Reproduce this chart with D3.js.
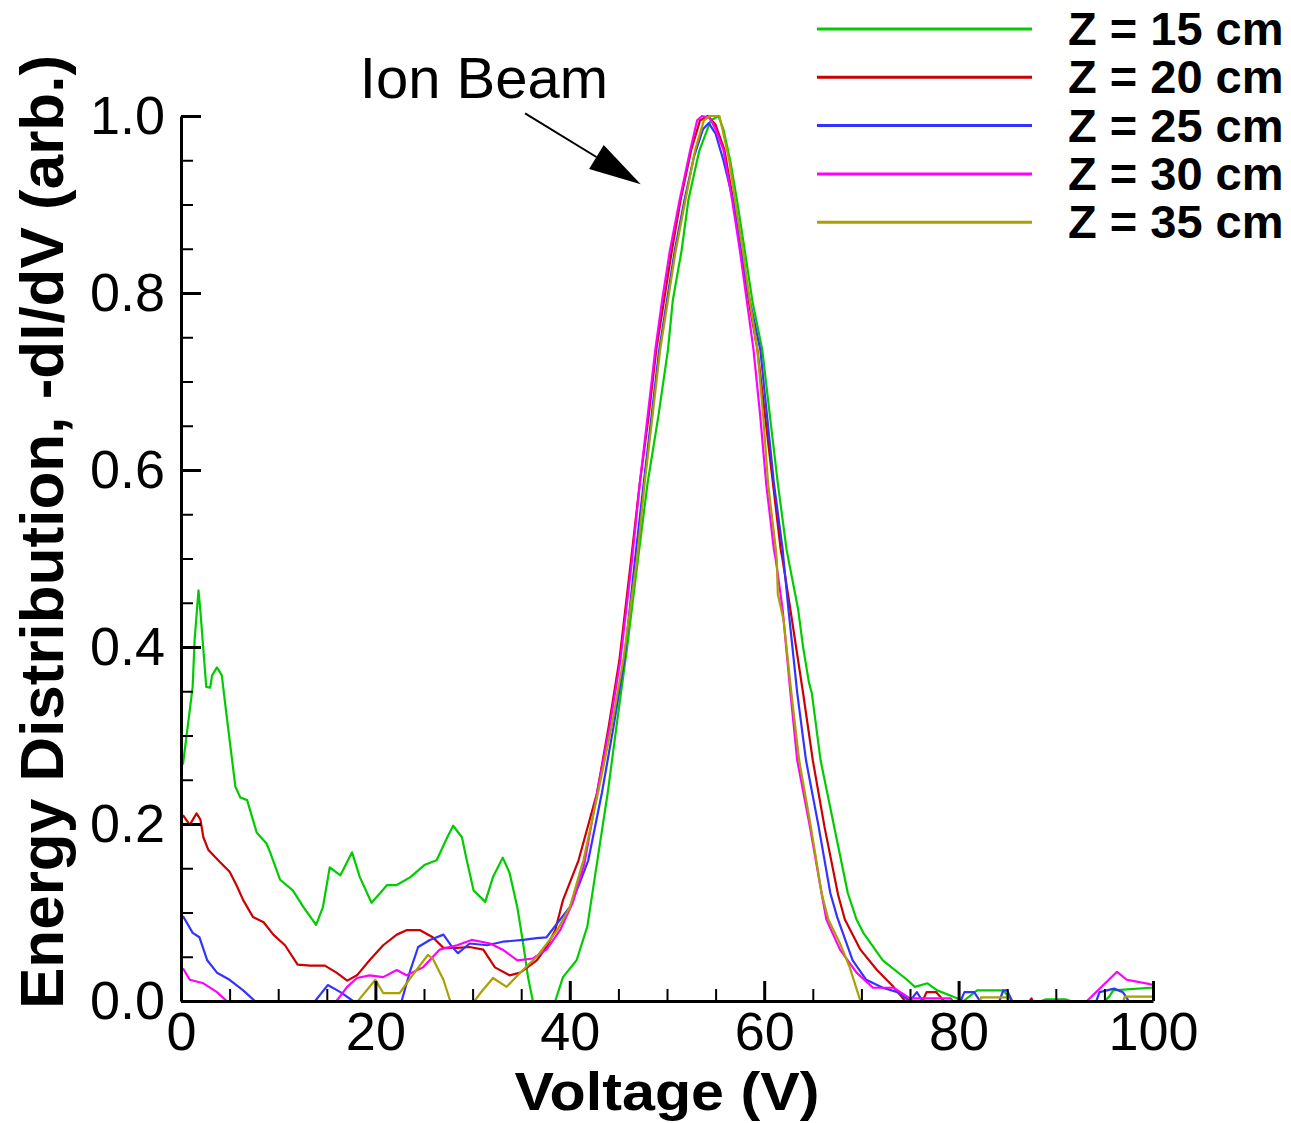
<!DOCTYPE html>
<html lang="en">
  <head>
    <meta charset="UTF-8" />
    <title>Ion energy distribution</title>
    <script src="https://d3js.org/d3.v7.min.js"></script>
    <style>
      body { margin: 0; background: #fff; }
      svg { display: block; font-family: "Liberation Sans", Arial, sans-serif; }
      .axis .domain { stroke: #000; stroke-width: 3; }
      .axis .tick line { stroke: #000; stroke-width: 3; }
      .minor .tick line { stroke: #000; stroke-width: 2; }
      .axis text { font-size: 54px; fill: #000; }
      .curve { fill: none; stroke-width: 2.2; stroke-linejoin: round; }
    </style>
  </head>
  <body>
    <svg width="1291" height="1123"></svg>
    <script>
      const width = 1291;
      const height = 1123;

      // 数据: [电压 V, -dI/dV]
      const z15 = [[0.2,0.267],[1.2,0.355],[1.4,0.408],[1.8,0.464],[2.0,0.44],[2.3,0.397],[2.6,0.355],[3.0,0.354],[3.2,0.368],[3.7,0.377],[4.2,0.368],[4.5,0.34],[5.0,0.295],[5.6,0.242],[6.1,0.23],[6.8,0.227],[7.8,0.19],[8.8,0.178],[9.2,0.167],[10.2,0.137],[11.5,0.125],[12.6,0.106],[13.9,0.086],[14.6,0.106],[15.3,0.151],[16.4,0.142],[17.6,0.168],[18.4,0.14],[19.6,0.111],[20.5,0.122],[21.2,0.131],[22.2,0.131],[23.6,0.14],[25.1,0.154],[26.3,0.159],[27.4,0.185],[28.0,0.198],[28.9,0.185],[29.4,0.159],[30.1,0.125],[31.3,0.112],[32.1,0.14],[33.1,0.162],[33.8,0.145],[34.6,0.106],[35.2,0.065],[35.7,0.027],[36.2,0],[36.8,-0.03],[37.8,-0.03],[38.5,0],[39.3,0.027],[40.7,0.046],[41.8,0.084],[42.8,0.156],[43.9,0.235],[44.8,0.31],[45.9,0.4],[47.0,0.498],[48.0,0.585],[49.1,0.66],[50.1,0.736],[50.6,0.792],[51.5,0.848],[52.2,0.905],[53.3,0.96],[54.5,0.995],[55.3,1.0],[55.8,0.985],[56.5,0.95],[57.2,0.905],[58.0,0.848],[58.8,0.79],[59.8,0.736],[60.6,0.66],[61.4,0.585],[62.3,0.51],[63.5,0.442],[64.0,0.4],[64.6,0.36],[64.9,0.348],[65.8,0.272],[67.2,0.197],[68.6,0.122],[69.5,0.092],[70.2,0.077],[72.2,0.046],[74.7,0.024],[75.5,0.016],[76.8,0.02],[77.8,0.012],[79.4,0.005],[80.5,0],[81.9,0.012],[84.6,0.012],[85.5,0],[87,-0.01],[88.5,0],[89,0.002],[91,0.002],[91.5,0],[94,-0.01],[95.5,0.005],[95.9,0.012],[99.7,0.015],[100,0.015]];
      const z20 = [[0.2,0.21],[0.9,0.199],[1.6,0.212],[2.0,0.205],[2.3,0.185],[2.8,0.171],[4.0,0.157],[5.0,0.146],[5.7,0.131],[6.4,0.114],[7.4,0.095],[8.5,0.089],[9.5,0.075],[10.7,0.063],[12.0,0.041],[13.3,0.04],[14.8,0.04],[16.0,0.032],[17.1,0.023],[18.1,0.029],[19.4,0.046],[20.8,0.063],[22.2,0.075],[23.2,0.08],[24.6,0.08],[25.9,0.072],[27.0,0.06],[28.4,0.06],[29.7,0.061],[31.1,0.058],[32.3,0.038],[33.8,0.029],[34.9,0.032],[36.6,0.046],[37.6,0.061],[38.5,0.08],[39.3,0.114],[40.9,0.159],[42.8,0.235],[44.0,0.31],[45.1,0.385],[46.3,0.498],[47.2,0.585],[48.1,0.66],[48.9,0.736],[49.7,0.792],[50.5,0.848],[51.4,0.905],[52.5,0.962],[53.4,0.995],[54.2,1.0],[55.0,0.99],[55.9,0.962],[56.8,0.905],[57.6,0.848],[58.4,0.792],[59.3,0.736],[60.1,0.66],[60.9,0.585],[61.7,0.51],[61.9,0.498],[62.7,0.442],[64.0,0.348],[65.0,0.272],[66.2,0.197],[67.6,0.12],[68.3,0.092],[69.9,0.058],[71.6,0.035],[73.3,0.016],[74.5,0],[75.5,-0.01],[76.3,0],[76.7,0.01],[77.7,0.01],[78.5,0],[80,-0.01],[87,-0.005],[87.5,0.003],[88,-0.01],[100,-0.01]];
      const z25 = [[0.2,0.096],[1.2,0.077],[1.9,0.072],[2.7,0.046],[3.7,0.032],[5.0,0.024],[6.4,0.012],[7.6,0],[9,-0.02],[12,-0.02],[13.8,0],[15.1,0.018],[16.4,0.01],[17.7,0],[19,-0.02],[21,-0.02],[22.7,0],[23.6,0.035],[24.4,0.061],[25.6,0.069],[27.0,0.075],[27.9,0.061],[28.5,0.054],[29.7,0.065],[31.5,0.063],[33.1,0.067],[35.2,0.069],[36.6,0.071],[37.6,0.072],[39.0,0.092],[40.0,0.106],[41.0,0.133],[41.9,0.159],[43.3,0.235],[44.5,0.31],[45.6,0.385],[46.7,0.498],[47.6,0.585],[48.4,0.66],[49.2,0.736],[50.0,0.792],[50.8,0.848],[51.8,0.905],[52.8,0.955],[53.7,0.985],[54.3,0.992],[55.0,0.98],[55.8,0.95],[56.8,0.905],[57.6,0.848],[58.5,0.792],[59.6,0.736],[60.3,0.66],[61.0,0.585],[61.9,0.51],[62.0,0.498],[62.5,0.442],[63.4,0.348],[64.3,0.272],[65.6,0.197],[66.8,0.122],[67.5,0.095],[69.1,0.046],[70.5,0.024],[72.2,0.015],[73.7,0.01],[75.0,0],[75.7,0.01],[76.3,0],[78,-0.01],[80.2,0],[80.6,0.01],[81.6,0.01],[82.2,0],[84.2,0],[84.6,0.012],[85.0,0.012],[85.5,0],[88,-0.01],[94,-0.005],[94.5,0.01],[96.0,0.014],[96.9,0.01],[97.5,0],[100,-0.005]];
      const z30 = [[0.2,0.037],[0.9,0.024],[2.3,0.02],[3.7,0.01],[4.7,0],[6,-0.02],[10,-0.03],[14,-0.02],[16,0],[17.1,0.016],[18.1,0.026],[19.4,0.029],[20.8,0.027],[22.2,0.035],[23.2,0.029],[24.9,0.038],[26.6,0.058],[28.4,0.063],[29.9,0.069],[31.8,0.065],[33.1,0.058],[34.6,0.046],[36.2,0.048],[37.6,0.058],[39.0,0.08],[40.3,0.111],[41.5,0.155],[42.8,0.235],[44.1,0.31],[45.2,0.385],[46.4,0.498],[47.2,0.585],[48.0,0.66],[48.8,0.736],[49.5,0.792],[50.3,0.848],[51.3,0.905],[52.4,0.962],[53.1,0.995],[53.6,1.0],[54.4,0.998],[55.0,0.985],[55.8,0.962],[56.7,0.905],[57.5,0.848],[58.2,0.792],[58.9,0.736],[59.6,0.66],[60.2,0.585],[61.0,0.51],[61.2,0.498],[61.9,0.442],[62.7,0.348],[63.4,0.272],[64.7,0.197],[65.9,0.122],[66.4,0.092],[67.8,0.058],[69.5,0.032],[71.2,0.015],[73.3,0.015],[75.0,0.003],[77.5,0.003],[79.2,0.003],[80,-0.01],[92.5,-0.01],[93.2,0],[96.3,0.033],[97.3,0.024],[99.7,0.019],[100,0.018]];
      const z35 = [[0,-0.05],[10,-0.05],[16.5,-0.02],[18.2,0],[20.0,0.024],[20.8,0.009],[22.5,0.009],[23.6,0.026],[25.4,0.052],[25.9,0.048],[27.0,0.024],[27.7,0],[28.8,-0.02],[29.5,-0.01],[30.2,0],[30.8,0.009],[32.1,0.026],[33.5,0.016],[34.9,0.032],[36.6,0.05],[38.7,0.08],[40.0,0.106],[41.4,0.159],[42.9,0.235],[44.3,0.31],[45.5,0.385],[46.9,0.498],[47.7,0.585],[48.5,0.66],[49.3,0.736],[50.1,0.792],[50.9,0.848],[51.9,0.905],[52.9,0.962],[53.8,0.995],[54.4,1.0],[55.4,1.0],[55.9,0.975],[56.4,0.95],[57.0,0.905],[57.8,0.848],[58.5,0.792],[59.3,0.736],[59.9,0.66],[60.4,0.585],[61.2,0.51],[61.3,0.498],[61.4,0.46],[61.8,0.44],[62.0,0.43],[62.8,0.348],[63.6,0.272],[64.8,0.197],[65.9,0.122],[66.6,0.092],[67.8,0.065],[68.8,0.038],[69.9,0],[71,-0.03],[82,-0.01],[82.3,0.004],[85,0.004],[85.3,-0.005],[96.8,-0.005],[97.1,0.005],[100,0.005]];

      const seriesNames = ["Z = 15 cm", "Z = 20 cm", "Z = 25 cm", "Z = 30 cm", "Z = 35 cm"];
      const seriesData = [z15, z20, z25, z30, z35];
      const seriesColors = ["#00cc00", "#cc0000", "#3333ff", "#ff00ff", "#aaa000"];

      const xMajorTicks = [0, 20, 40, 60, 80, 100];
      const yMajorTicks = [0, 0.2, 0.4, 0.6, 0.8, 1.0];

      // 注释箭头 (数据坐标)
      const arrowFrom = [35.4, 1.003];
      const arrowTo = [47.3, 0.923];

      const svg = d3.select("svg");
      svg.append("rect").attr("width", width).attr("height", height).attr("fill", "#fff");

      const x = d3.scaleLinear().domain([0, 100]).range([181, 1153]);
      const y = d3.scaleLinear().domain([0, 1]).range([1001, 116]);

      // 裁剪 0 以下的部分
      svg.append("clipPath").attr("id", "plotclip")
        .append("rect")
        .attr("x", x(0)).attr("y", 0)
        .attr("width", x(100) - x(0)).attr("height", y(0));

      const line = d3.line().x((d) => x(d[0])).y((d) => y(d[1]));

      svg.append("g").attr("clip-path", "url(#plotclip)")
        .selectAll("path")
        .data(seriesData)
        .join("path")
        .attr("class", "curve")
        .attr("stroke", (d, i) => seriesColors[i])
        .attr("d", line);

      // 次刻度
      const xMinor = d3.range(0, 100.1, 5).filter((v) => v % 20 !== 0);
      const yMinor = d3.range(0, 20).map((i) => i * 0.05).filter((v, i) => i % 4 !== 0);

      svg.append("g").attr("class", "minor")
        .attr("transform", `translate(0, ${y(0)})`)
        .call(d3.axisBottom(x).tickValues(xMinor).tickSize(-12).tickFormat(""))
        .select(".domain").remove();
      svg.append("g").attr("class", "minor")
        .attr("transform", `translate(${x(0)}, 0)`)
        .call(d3.axisLeft(y).tickValues(yMinor).tickSize(-12).tickFormat(""))
        .select(".domain").remove();

      // 主刻度 (朝内)
      svg.append("g").attr("class", "axis")
        .attr("transform", `translate(0, ${y(0)})`)
        .call(d3.axisBottom(x).tickValues(xMajorTicks).tickSize(-20).tickSizeOuter(0).tickPadding(11));
      svg.append("g").attr("class", "axis")
        .attr("transform", `translate(${x(0)}, 0)`)
        .call(d3.axisLeft(y).tickValues(yMajorTicks).tickSize(-20).tickSizeOuter(0).tickPadding(16).tickFormat(d3.format(".1f")));

      // 轴标题
      svg.append("text")
        .attr("x", 667).attr("y", 1110)
        .attr("text-anchor", "middle")
        .attr("font-size", 54).attr("font-weight", "bold")
        .attr("textLength", 305).attr("lengthAdjust", "spacingAndGlyphs")
        .text("Voltage (V)");
      svg.append("text")
        .attr("transform", "translate(63, 532) rotate(-90)")
        .attr("text-anchor", "middle")
        .attr("font-size", 62).attr("font-weight", "bold")
        .text("Energy Distribution, -dI/dV (arb.)");

      // 注释
      svg.append("text")
        .attr("x", 484).attr("y", 98)
        .attr("text-anchor", "middle")
        .attr("font-size", 58)
        .text("Ion Beam");

      const ax0 = x(arrowFrom[0]), ay0 = y(arrowFrom[1]);
      const ax1 = x(arrowTo[0]), ay1 = y(arrowTo[1]);
      const ang = Math.atan2(ay1 - ay0, ax1 - ax0);
      const headLen = 52, headHalf = 14;
      const bx = ax1 - headLen * Math.cos(ang), by = ay1 - headLen * Math.sin(ang);
      svg.append("line")
        .attr("x1", ax0).attr("y1", ay0).attr("x2", bx).attr("y2", by)
        .attr("stroke", "#000").attr("stroke-width", 2);
      svg.append("polygon")
        .attr("points", [
          [ax1, ay1],
          [bx + headHalf * Math.sin(ang), by - headHalf * Math.cos(ang)],
          [bx - headHalf * Math.sin(ang), by + headHalf * Math.cos(ang)],
        ].map((p) => p.join(",")).join(" "))
        .attr("fill", "#000");

      // 图例
      const legend = svg.append("g");
      const item = legend.selectAll("g")
        .data(seriesNames)
        .join("g")
        .attr("transform", (d, i) => `translate(0, ${29 + i * 48.3})`);
      item.append("line")
        .attr("x1", 817).attr("x2", 1032)
        .attr("stroke", (d, i) => seriesColors[i])
        .attr("stroke-width", 3);
      item.append("text")
        .attr("x", 1068).attr("y", 16)
        .attr("font-size", 47).attr("font-weight", "bold")
        .text((d) => d);
    </script>
  </body>
</html>
